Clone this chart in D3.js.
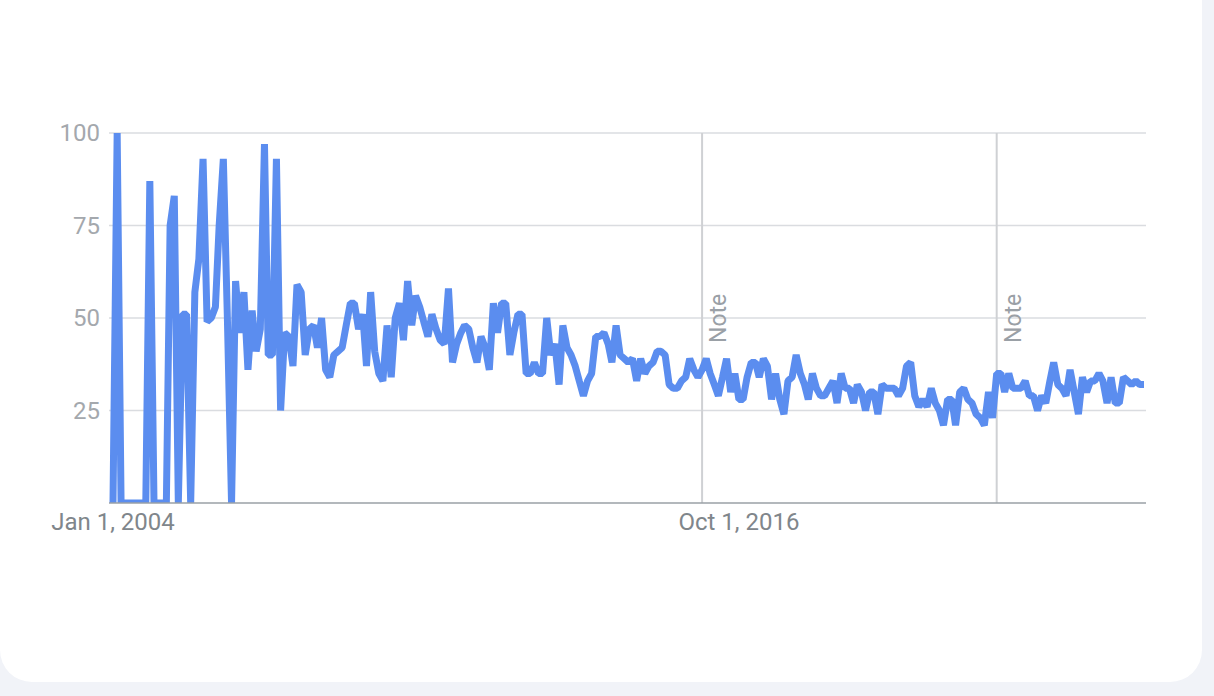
<!DOCTYPE html>
<html>
<head>
<meta charset="utf-8">
<script src="https://cdn.jsdelivr.net/npm/d3@7"></script>
<style>
  html, body { margin: 0; padding: 0; background: #f1f3f8; }
  svg { display: block; }
</style>
</head>
<body>
<svg id="chart" width="1214" height="696"></svg>
<script>
// ---- data ----
const startMonth = "2004-01";   // first month of the series (monthly points)
const values = [
  0,100,0,0,0,0,0,0,0,87,
  0,0,0,0,75,83,0,51,51,0,
  57,66,93,49,50,53,75,93,50,0,
  60,46,57,36,52,41,47,97,40,40,
  93,25,46,45,37,59,57,40,47,48,
  42,50,36,34,40,41,42,48,54,54,
  47,51,37,57,41,35,33,48,34,50,
  54,44,60,48,56,53,49,45,51,47,
  44,43,58,38,43,46,48,47,42,38,
  45,42,36,54,46,54,54,40,46,51,
  51,35,35,38,35,35,50,40,43,32,
  48,42,40,37,33,29,33,35,45,45,
  46,43,38,48,40,39,38,39,33,39,
  35,37,38,41,41,40,32,31,31,33,
  34,39,36,34,36,39,35,32,29,34,
  39,30,35,28,28,34,38,38,34,39,
  37,28,35,28,24,33,34,40,35,32,
  28,35,31,29,29,31,33,27,35,31,
  31,27,32,30,25,30,30,24,32,31,
  31,31,29,31,37,38,29,26,28,26,
  31,27,25,21,28,28,21,30,31,28,
  27,24,23,21,30,23,35,35,30,35,
  31,31,31,33,29,29,25,29,27,33,
  38,32,31,29,36,30,24,34,30,33,
  33,35,33,27,34,27,27,34,33,32,
  33,32,32
];
const yTicks = [25, 50, 75, 100];
const xTickDates = ["2004-01-01", "2016-10-01"];
const xTickLabels = ["Jan 1, 2004", "Oct 1, 2016"];
const noteDates = ["2016-01-01", "2022-01-01"];
const noteLabel = "Note";

// ---- build ----
const parseM = d3.timeParse("%Y-%m");
const parseD = d3.timeParse("%Y-%m-%d");
const t0 = parseM(startMonth);
const data = values.map((v, i) => ({ date: d3.timeMonth.offset(t0, i), value: v }));

const svg = d3.select("#chart");

// card
svg.append("rect").attr("x", 0).attr("y", -40).attr("width", 1202).attr("height", 722)
  .attr("rx", 32).attr("fill", "#ffffff");

const x = d3.scaleTime()
  .domain([data[0].date, data[data.length - 1].date])
  .range([113, 1144]);
const y = d3.scaleLinear().domain([0, 100]).range([503, 133]);

const gridX0 = 109, gridX1 = 1146;

// gridlines
svg.append("g").selectAll("line").data(yTicks).join("line")
  .attr("x1", gridX0).attr("x2", gridX1)
  .attr("y1", d => y(d)).attr("y2", d => y(d))
  .attr("stroke", "#dadce0").attr("stroke-width", 1.5);

// y labels
svg.append("g").selectAll("text").data(yTicks).join("text")
  .attr("x", 100).attr("y", d => y(d)).attr("dy", "0.35em")
  .attr("text-anchor", "end")
  .attr("font-family", "Roboto, sans-serif").attr("font-size", 24)
  .attr("fill", "#a4a8ad")
  .text(d => d);

// note lines
const notes = noteDates.map(parseD);
svg.append("g").selectAll("line").data(notes).join("line")
  .attr("x1", d => x(d)).attr("x2", d => x(d))
  .attr("y1", y(100)).attr("y2", y(0))
  .attr("stroke", "#cfd1d4").attr("stroke-width", 2);
svg.append("g").selectAll("text").data(notes).join("text")
  .attr("transform", d => `translate(${x(d) + 24},${343}) rotate(-90)`)
  .attr("text-anchor", "start")
  .attr("font-family", "Roboto, sans-serif").attr("font-size", 23)
  .attr("fill", "#9aa0a6")
  .text(noteLabel);

// line
svg.append("clipPath").attr("id", "plotclip").append("rect")
  .attr("x", 100).attr("y", y(100)).attr("width", 1060).attr("height", y(0) - y(100));
const line = d3.line().x(d => x(d.date)).y(d => y(d.value));
svg.append("path").datum(data)
  .attr("clip-path", "url(#plotclip)")
  .attr("d", line)
  .attr("fill", "none")
  .attr("stroke", "#5b8def")
  .attr("stroke-width", 7)
  .attr("stroke-linejoin", "bevel");

// x axis baseline
svg.append("line").attr("x1", gridX0).attr("x2", gridX1)
  .attr("y1", y(0)).attr("y2", y(0))
  .attr("stroke", "#9aa0a6").attr("stroke-width", 1.5);

// x labels
svg.append("g").selectAll("text").data(xTickDates.map(parseD)).join("text")
  .attr("x", d => x(d)).attr("y", 530)
  .attr("text-anchor", "middle")
  .attr("font-family", "Roboto, sans-serif").attr("font-size", 24)
  .attr("fill", "#80868b")
  .text((d, i) => xTickLabels[i]);
</script>
</body>
</html>
